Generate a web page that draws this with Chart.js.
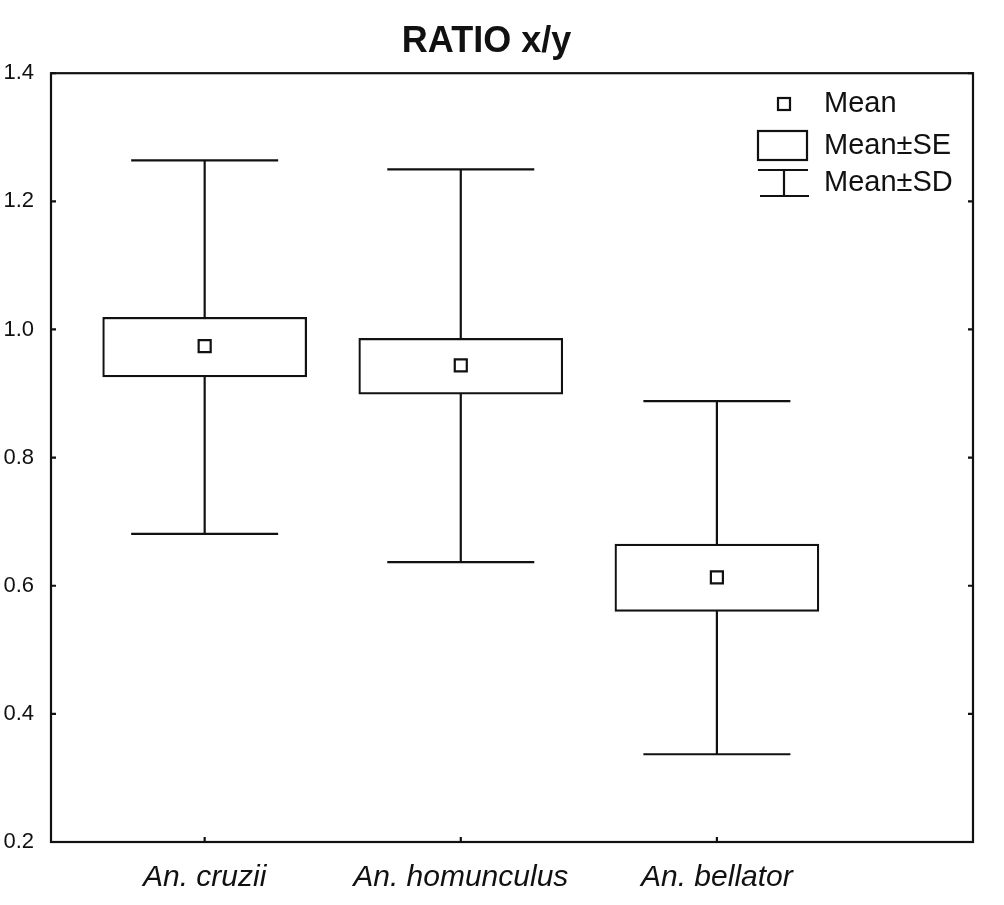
<!DOCTYPE html>
<html>
<head>
<meta charset="utf-8">
<script src="https://cdn.jsdelivr.net/npm/chart.js@4"></script>
<style>
  body { margin: 0; background: #fff; }
  #wrap { width: 1004px; height: 905px; }
</style>
</head>
<body>
<div id="wrap"><canvas id="myChart"></canvas></div>
<script>
// Dataset
const categories = ["An. cruzii", "An. homunculus", "An. bellator"];
const means = [0.974, 0.944, 0.613];
const seLow = [0.926, 0.899, 0.560];
const seHigh = [1.019, 0.986, 0.665];
const sdLow = [0.681, 0.637, 0.337];
const sdHigh = [1.264, 1.250, 0.888];
const legendLabels = ["Mean", "Mean\u00b1SE", "Mean\u00b1SD"];

const xPos = categories.map((c, i) => i + 1);
const CAP = 0.287; // half width of whisker caps, in x units
const FONT = "'Liberation Sans', Arial, sans-serif";
const INK = "#111";

const stems = [];
const caps = [];
xPos.forEach((x, i) => {
  stems.push({ x: x, y: sdHigh[i] }, { x: x, y: sdLow[i] }, { x: x, y: null });
  caps.push({ x: x - CAP, y: sdHigh[i] }, { x: x + CAP, y: sdHigh[i] }, { x: x, y: null });
  caps.push({ x: x - CAP, y: sdLow[i] }, { x: x + CAP, y: sdLow[i] }, { x: x, y: null });
});

const data = {
  datasets: [
    {
      type: "scatter",
      label: "sd",
      data: stems,
      showLine: true,
      spanGaps: false,
      borderColor: INK,
      borderWidth: 2.2,
      pointRadius: 0,
      order: 3,
    },
    {
      type: "scatter",
      label: "caps",
      data: caps,
      showLine: true,
      spanGaps: false,
      borderColor: INK,
      borderWidth: 2.2,
      pointRadius: 0,
      order: 3,
    },
    {
      type: "bar",
      label: "se",
      data: xPos.map((x, i) => ({ x: x, y: [seLow[i], seHigh[i]] })),
      backgroundColor: "#fff",
      borderColor: INK,
      borderWidth: 2.2,
      borderSkipped: false,
      barThickness: 204,
      order: 2,
    },
    {
      type: "scatter",
      label: "mean",
      data: xPos.map((x, i) => ({ x: x, y: means[i] })),
      pointStyle: "rect",
      pointRadius: 8.5,
      pointBackgroundColor: "#fff",
      pointBorderColor: INK,
      pointBorderWidth: 2.2,
      order: 1,
    },
  ],
};

// frame, inward tick marks and the legend
const decor = {
  id: "decor",
  afterDatasetsDraw(chart) {
    const { ctx, chartArea: a, scales } = chart;
    ctx.save();
    ctx.strokeStyle = INK;
    ctx.lineWidth = 2.2;
    ctx.strokeRect(a.left, a.top, a.right - a.left, a.bottom - a.top);
    ctx.beginPath();
    scales.y.ticks.forEach((t) => {
      const y = scales.y.getPixelForValue(t.value);
      ctx.moveTo(a.left, y); ctx.lineTo(a.left + 5, y);
      ctx.moveTo(a.right, y); ctx.lineTo(a.right - 5, y);
    });
    scales.x.ticks.forEach((t) => {
      const x = scales.x.getPixelForValue(t.value);
      ctx.moveTo(x, a.bottom); ctx.lineTo(x, a.bottom - 5);
    });
    ctx.stroke();

    // legend
    const sx = 784;
    ctx.fillStyle = "#fff";
    ctx.fillRect(sx - 6, 98, 12, 12);
    ctx.strokeRect(sx - 6, 98, 12, 12);
    ctx.fillRect(758, 131, 49, 29);
    ctx.strokeRect(758, 131, 49, 29);
    ctx.beginPath();
    ctx.moveTo(758, 170); ctx.lineTo(808, 170);
    ctx.moveTo(sx, 170); ctx.lineTo(sx, 196);
    ctx.moveTo(760, 196); ctx.lineTo(809, 196);
    ctx.stroke();
    ctx.fillStyle = INK;
    ctx.font = "29px " + FONT;
    ctx.textBaseline = "middle";
    ctx.textAlign = "left";
    [104, 146, 183].forEach((y, i) => ctx.fillText(legendLabels[i], 824, y));
    ctx.restore();
  },
};

const config = {
  type: "bar",
  data: data,
  options: {
    responsive: true,
    maintainAspectRatio: false,
    animation: false,
    layout: { padding: { left: 0, right: 31, top: 0, bottom: 0 } },
    plugins: {
      legend: { display: false },
      tooltip: { enabled: false },
      title: {
        display: true,
        text: "RATIO x/y",
        color: INK,
        font: { family: FONT, size: 36, weight: "bold", lineHeight: 1.2 },
        padding: { top: 20, bottom: 10 },
      },
    },
    scales: {
      x: {
        type: "linear",
        min: 0.4,
        max: 4,
        offset: false,
        grid: { display: false, drawTicks: false, offset: false },
        border: { display: false },
        afterBuildTicks: (s) => { s.ticks = xPos.map((v) => ({ value: v })); },
        afterFit: (s) => { s.height = 63; },
        ticks: {
          autoSkip: false,
          maxRotation: 0,
          padding: 18,
          color: INK,
          font: { family: FONT, size: 30, style: "italic" },
          callback: (v) => categories[v - 1],
        },
      },
      y: {
        min: 0.2,
        max: 1.4,
        grid: { display: false, drawTicks: false },
        border: { display: false },
        afterFit: (s) => { s.width = 51; },
        ticks: {
          stepSize: 0.2,
          padding: 17,
          color: INK,
          font: { family: FONT, size: 22 },
          callback: (v) => v.toFixed(1),
        },
      },
    },
  },
  plugins: [decor],
};

// Plotting
const ctx = document.getElementById("myChart").getContext("2d");
const boxChart = new Chart(ctx, config);
</script>
</body>
</html>
